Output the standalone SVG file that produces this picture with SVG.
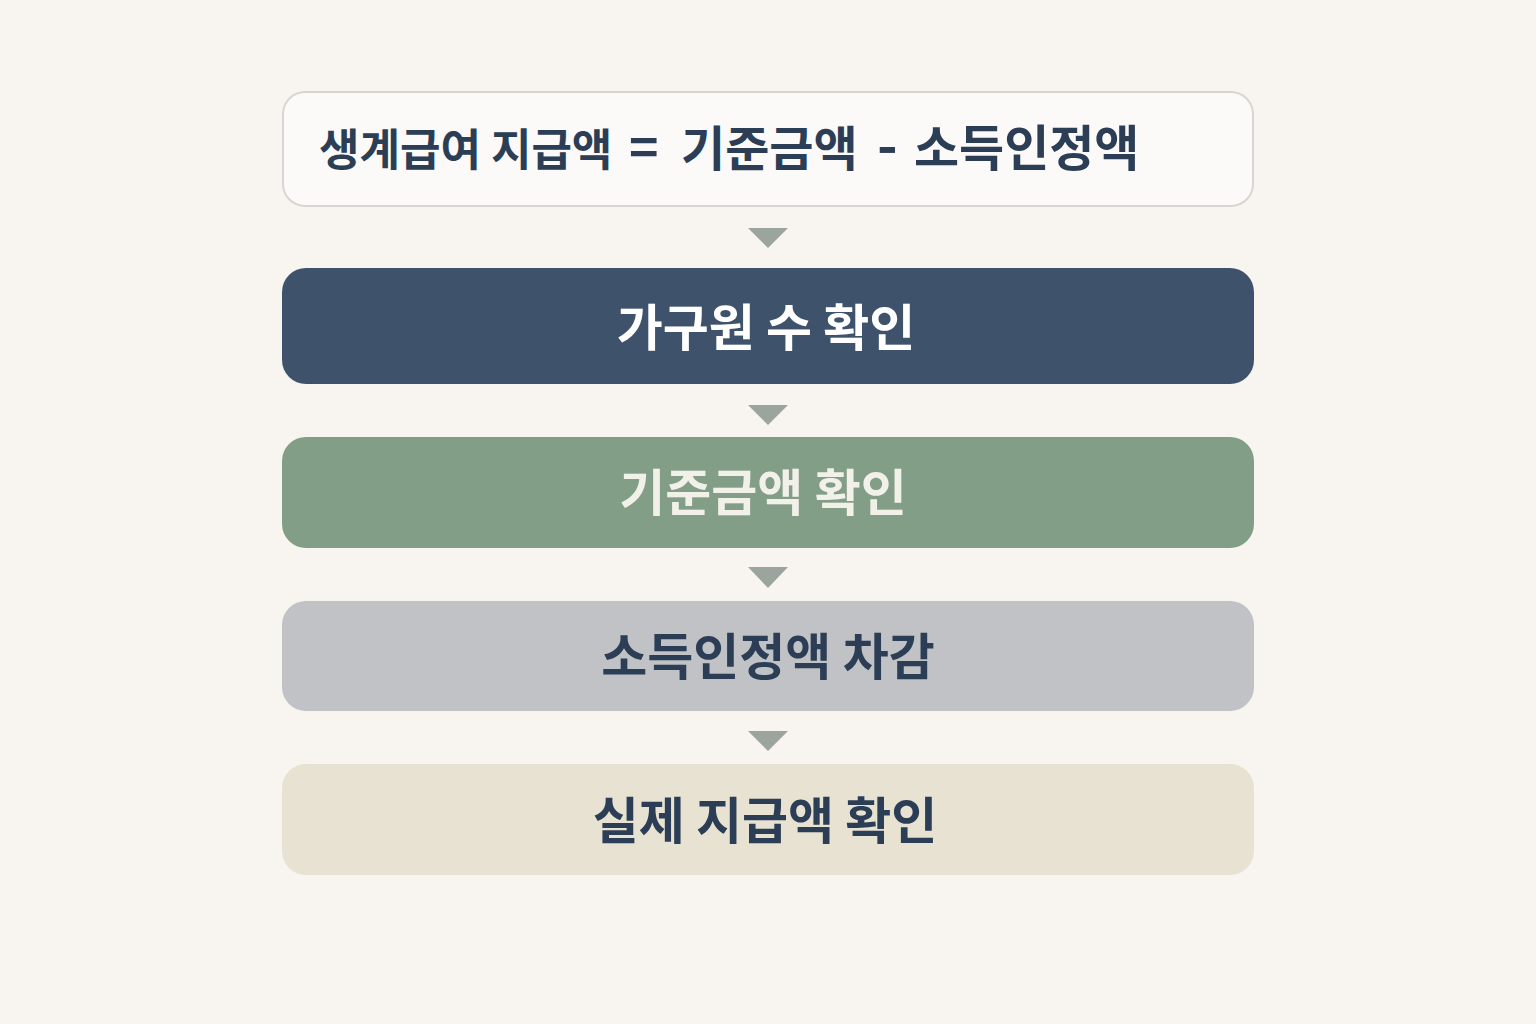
<svg xmlns="http://www.w3.org/2000/svg" width="1536" height="1024" viewBox="0 0 1536 1024">
<style>
.t{font-family:"Noto Sans CJK KR","Noto Sans",sans-serif;font-weight:700;}
.s{font-size:50px;text-anchor:middle;}
.dark{fill:#2c3e55;}
.arr{fill:#9ba49d;}
</style>
<rect width="1536" height="1024" fill="#f8f5f0"/>
<g id="connectors">
<polygon class="arr" points="748,228 788,228 768,248"/>
<polygon class="arr" points="748,405 788,405 768,425"/>
<polygon class="arr" points="748,567 788,567 768,588"/>
<polygon class="arr" points="748,731 788,731 768,751"/>
</g>
<g id="formula">
<rect x="283" y="92" width="970" height="114" rx="22" fill="#fbfaf8" stroke="#d9d6d1" stroke-width="2"/>
<text class="t dark" y="166" font-size="44"><tspan x="319">생계급여 지급액</tspan><tspan x="629" font-size="50">=</tspan><tspan x="681" font-size="48">기준금액</tspan><tspan x="877" font-size="56">-</tspan><tspan x="914" font-size="49">소득인정액</tspan></text>
</g>
<g id="step1">
<rect x="282" y="268" width="972" height="116" rx="24" fill="#3e536b"/>
<text class="t s" x="766" y="346" fill="#ffffff">가구원 수 확인</text>
</g>
<g id="step2">
<rect x="282" y="437" width="972" height="111" rx="24" fill="#829e86"/>
<text class="t s" x="763" y="511" fill="#f1f0e9">기준금액 확인</text>
</g>
<g id="step3">
<rect x="282" y="601" width="972" height="110" rx="24" fill="#c0c2c5"/>
<text class="t s dark" x="768" y="675">소득인정액 차감</text>
</g>
<g id="step4">
<rect x="282" y="764" width="972" height="111" rx="24" fill="#e8e2d2"/>
<text class="t s dark" x="765" y="839">실제 지급액 확인</text>
</g>
</svg>
